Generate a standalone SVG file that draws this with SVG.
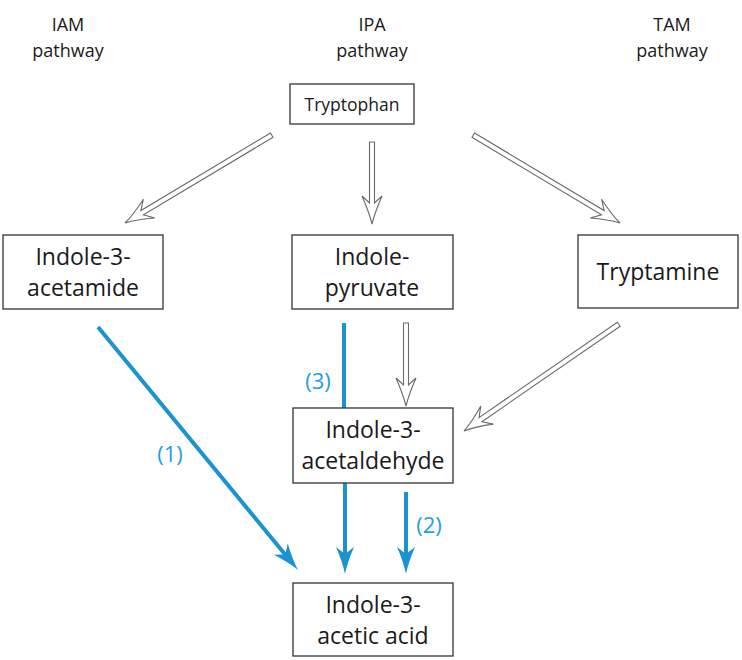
<svg xmlns="http://www.w3.org/2000/svg" xmlns:xlink="http://www.w3.org/1999/xlink" width="742" height="660" viewBox="0 0 742 660">
<style>
.box{fill:#fff;stroke:#333;stroke-width:1.3}
.t{font-family:"Open Sans","Liberation Sans",sans-serif;font-size:23px;fill:#1a1a1a;text-anchor:middle}
.h{font-family:"Open Sans","Liberation Sans",sans-serif;font-size:18px;fill:#1a1a1a;text-anchor:middle}
.lbl{font-family:"Open Sans","Liberation Sans",sans-serif;font-size:22px;fill:#1ea0e4;text-anchor:middle}
.hol{fill:#fff;stroke:#6a6a6a;stroke-width:1.1;stroke-linejoin:miter}
.bl{stroke:#1b93d1;stroke-width:4;fill:none}
.bh{fill:#1b93d1}
</style>
<defs>
<path id="bhead" d="M0,0 Q-12,-2.5 -27,-9 L-20,0 L-27,9 Q-12,2.5 0,0 Z"/>
</defs>
<g id="headers">
<text class="h" x="68" y="31">IAM</text>
<text class="h" x="68" y="57">pathway</text>
<text class="h" x="372" y="31">IPA</text>
<text class="h" x="372" y="57">pathway</text>
<text class="h" x="672" y="31">TAM</text>
<text class="h" x="672" y="57">pathway</text>
</g>
<g id="connectors">
<path class="hol" transform="translate(125,223) rotate(149.1)" d="M-171,-2.5 L-20,-2.5 L-28,-11 Q-12,-3 0,0 Q-12,3 -28,11 L-20,2.5 L-171,2.5 Z"/>
<path class="hol" transform="translate(372,224) rotate(90)" d="M-82,-2.5 L-21,-2.5 L-28,-10 Q-12,-3 0,0 Q-12,3 -28,10 L-21,2.5 L-82,2.5 Z"/>
<path class="hol" transform="translate(620,223) rotate(30.9)" d="M-171,-2.5 L-20,-2.5 L-28,-11 Q-12,-3 0,0 Q-12,3 -28,11 L-20,2.5 L-171,2.5 Z"/>
<path class="hol" transform="translate(406,406) rotate(90)" d="M-83,-2.5 L-21,-2.5 L-28,-10 Q-12,-3 0,0 Q-12,3 -28,10 L-21,2.5 L-83,2.5 Z"/>
<path class="hol" transform="translate(464,431) rotate(145.4)" d="M-188,-2.5 L-20,-2.5 L-28,-11 Q-12,-3 0,0 Q-12,3 -28,11 L-20,2.5 L-188,2.5 Z"/>
<line class="bl" x1="98" y1="327" x2="288" y2="558"/>
<use href="#bhead" class="bh" transform="translate(298,570) rotate(50.55)"/>
<line class="bl" x1="344" y1="323" x2="344" y2="408"/>
<line class="bl" x1="345" y1="483" x2="345" y2="558"/>
<use href="#bhead" class="bh" transform="translate(345,574) rotate(90)"/>
<line class="bl" x1="406" y1="492" x2="406" y2="558"/>
<use href="#bhead" class="bh" transform="translate(406,574) rotate(90)"/>
<text class="lbl" x="318" y="389">(3)</text>
<text class="lbl" x="170" y="462">(1)</text>
<text class="lbl" x="429" y="533">(2)</text>
</g>
<g id="tryptophan">
<rect class="box" x="290" y="84" width="124" height="40"/>
<text class="t" x="352" y="111" style="font-size:17.5px">Tryptophan</text>
</g>
<g id="indole-3-acetamide">
<rect class="box" x="3" y="235" width="160" height="74"/>
<text class="t" x="83" y="265">Indole-3-</text>
<text class="t" x="83" y="296">acetamide</text>
</g>
<g id="indole-pyruvate">
<rect class="box" x="292" y="235" width="161" height="74"/>
<text class="t" x="372" y="265">Indole-</text>
<text class="t" x="372" y="296">pyruvate</text>
</g>
<g id="tryptamine">
<rect class="box" x="578" y="235" width="160" height="73"/>
<text class="t" x="658" y="280">Tryptamine</text>
</g>
<g id="indole-3-acetaldehyde">
<rect class="box" x="293" y="408" width="160" height="75"/>
<text class="t" x="373" y="438">Indole-3-</text>
<text class="t" x="373" y="469">acetaldehyde</text>
</g>
<g id="indole-3-acetic-acid">
<rect class="box" x="293" y="583" width="160" height="73"/>
<text class="t" x="373" y="613">Indole-3-</text>
<text class="t" x="373" y="644">acetic acid</text>
</g>
</svg>
